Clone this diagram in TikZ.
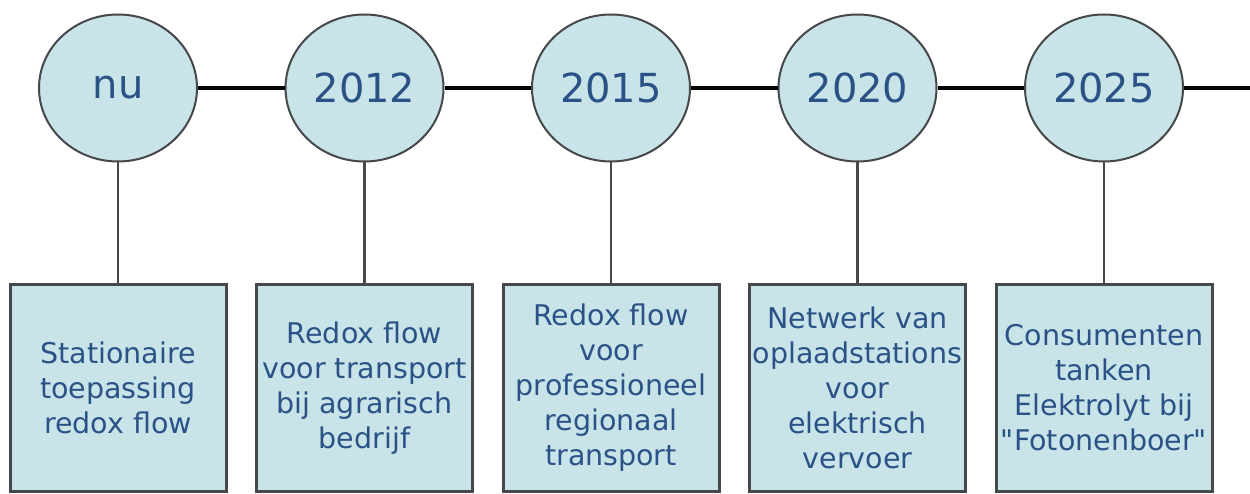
\documentclass[tikz,border=0pt]{standalone}
\usepackage{fontspec}
\setmainfont{DejaVu Sans}[Ligatures=TeXOff]
\usetikzlibrary{shapes.geometric}
\definecolor{bubble}{RGB}{200,228,232}
\definecolor{ink}{RGB}{42,82,135}
\definecolor{rim}{RGB}{70,72,74}

\begin{document}
\begin{tikzpicture}[thick,node distance=246.5pt,
  year/.style={ellipse,draw=rim,line width=2pt,fill=bubble,text=ink,
    minimum width=158pt,minimum height=147pt,inner sep=0pt,font=\fontsize{40}{44}\selectfont},
  goal/.style={rectangle,draw=rim,line width=3pt,fill=bubble,text=ink,
    minimum width=216pt,minimum height=206pt,inner sep=0pt,align=center,
    font=\fontsize{28.5}{35}\selectfont},
  axis/.style={line width=4pt,black},
  stem/.style={line width=2.5pt,rim}]
  \useasboundingbox (0,0) rectangle (1250pt,-494pt);
  \node[year] (nu) at (118pt,-88pt) {nu};
  \node[year] (2012) [right of=nu] {2012};
  \node[year] (2015) [right of=2012] {2015};
  \node[year] (2020) [right of=2015] {2020};
  \node[year] (2025) [right of=2020] {2025};
  \coordinate (end) at (1250pt,-88pt);
  \node[goal] (snu) [below of=nu,node distance=300pt] {Stationaire\\toepassing\\redox flow};
  \node[goal] (s2012) [below of=2012,node distance=300pt] {Redox flow\\voor transport\\bij agrarisch\\bedrijf};
  \node[goal] (s2015) [below of=2015,node distance=300pt] {Redox flow\\voor\\professioneel\\regionaal\\transport};
  \node[goal] (s2020) [below of=2020,node distance=300pt] {Netwerk van\\oplaadstations\\voor\\elektrisch\\vervoer};
  \node[goal] (s2025) [below of=2025,node distance=300pt] {Consumenten\\tanken\\Elektrolyt bij\\"Fotonenboer"};
  \path (nu) edge[axis] (2012);
  \path (2012) edge[axis] (2015);
  \path (2015) edge[axis] (2020);
  \path (2020) edge[axis] (2025);
  \path (2025) edge[axis] (end);
  \path (nu) edge[stem] (snu);
  \path (2012) edge[stem] (s2012);
  \path (2015) edge[stem] (s2015);
  \path (2020) edge[stem] (s2020);
  \path (2025) edge[stem] (s2025);
\end{tikzpicture}
\end{document}
